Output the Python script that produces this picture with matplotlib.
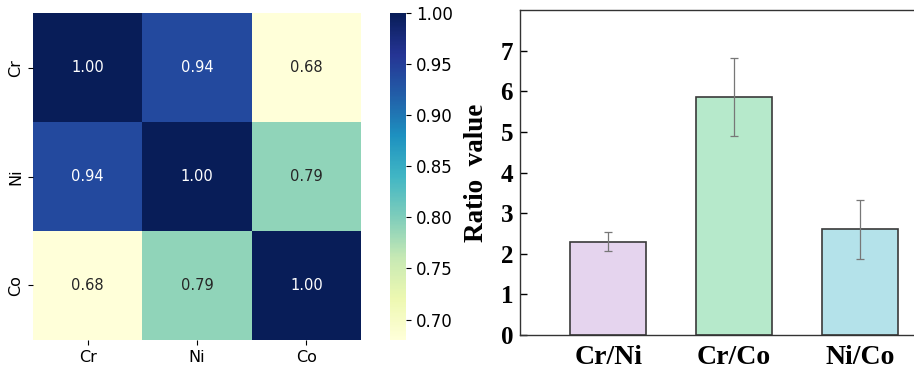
import numpy as np
import matplotlib
matplotlib.use("Agg")
import matplotlib.pyplot as plt
import seaborn as sns

# Correlation data
elements = ["Cr", "Ni", "Co"]
corr = [[1.00, 0.94, 0.68],
        [0.94, 1.00, 0.79],
        [0.68, 0.79, 1.00]]

# Ratio data
ratio_labels = ["Cr/Ni", "Cr/Co", "Ni/Co"]
ratio_values = [2.30, 5.85, 2.60]
ratio_errors = [0.23, 0.96, 0.73]
bar_colors = ["#E5D4EE", "#B6E9CB", "#B4E2EA"]

fig = plt.figure(figsize=(9.14, 3.74), dpi=100)

# -----------------------------------------------------------------------
# Left: correlation heatmap
# -----------------------------------------------------------------------
ax1 = fig.add_axes([0.036, 0.091, 0.359, 0.874])
cax = fig.add_axes([0.427, 0.091, 0.0175, 0.874])
sns.heatmap(np.array(corr), ax=ax1, cbar_ax=cax, cmap="YlGnBu",
            vmin=0.68, vmax=1.0, annot=True, fmt=".2f",
            annot_kws={"fontsize": 10.5},
            xticklabels=elements, yticklabels=elements)
ax1.tick_params(axis="both", labelsize=11.5)
cax.tick_params(labelsize=12)
cax.set_yticks([0.70, 0.75, 0.80, 0.85, 0.90, 0.95, 1.00])

# -----------------------------------------------------------------------
# Right: ratio bar chart
# -----------------------------------------------------------------------
ax2 = fig.add_axes([0.569, 0.104, 0.431, 0.869])
x = np.arange(len(ratio_labels))
ax2.bar(x, ratio_values, width=0.6, color=bar_colors, edgecolor="#3a3a3a",
        linewidth=1.2, zorder=2)
ax2.errorbar(x, ratio_values, yerr=ratio_errors, fmt="none", ecolor="#777777",
             elinewidth=0.9, capsize=3, capthick=0.9, zorder=3)
ax2.set_xlim(-0.7, 2.43)
ax2.set_ylim(0, 8)
ax2.set_yticks(range(0, 8))
ax2.set_xticks(x)
ax2.set_xticklabels(ratio_labels)
serif = {"family": "Liberation Serif", "weight": "bold"}
for lab in ax2.get_yticklabels():
    lab.set_fontproperties(serif)
    lab.set_fontsize(18)
for lab in ax2.get_xticklabels():
    lab.set_fontproperties(serif)
    lab.set_fontsize(20)
ax2.set_ylabel("Ratio  value", fontdict={**serif, "size": 19.5}, labelpad=8)
ax2.tick_params(axis="y", direction="in", length=5, width=1, pad=5)
ax2.tick_params(axis="x", direction="in", length=5, width=1, pad=7)
ax2.spines["right"].set_visible(False)
for s in ["left", "bottom", "top"]:
    ax2.spines[s].set_linewidth(1.0)
    ax2.spines[s].set_color("#333333")

fig.savefig("out.png", dpi=100)
